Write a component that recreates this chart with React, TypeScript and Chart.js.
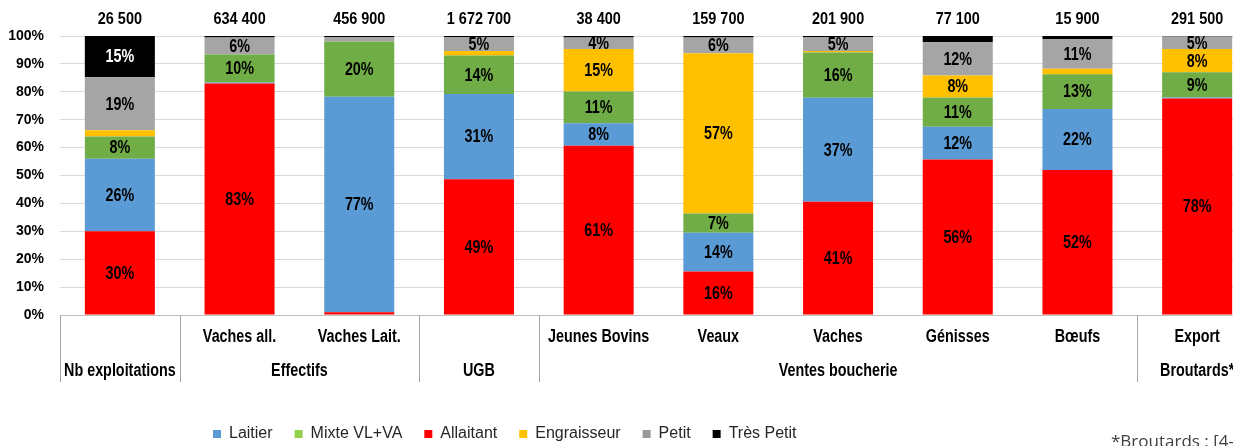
import React, { useEffect, useRef } from "react";
import { Chart, registerables } from "chart.js";

Chart.register(...registerables);

// ---------- data ----------
const categories = ["", "Vaches all.", "Vaches Lait.", "", "Jeunes Bovins", "Veaux", "Vaches", "Génisses", "Bœufs", "Export"];
const groupLabels = ["Nb exploitations", "Effectifs", "UGB", "Ventes boucherie", "Broutards*"];
const groupStart = [0, 1, 3, 4, 9];
const groupEnd = [0, 2, 3, 8, 9];
const totals = [26500, 634400, 456900, 1672700, 38400, 159700, 201900, 77100, 15900, 291500];

const seriesNames = ["Laitier", "Mixte VL+VA", "Allaitant", "Engraisseur", "Petit", "Très Petit"];
const laitier = [26, 0.3, 77.2, 30.5, 8, 13.9, 37.3, 11.8, 21.8, 0.4];
const mixte = [8, 10.1, 19.8, 13.8, 11.4, 6.9, 16.2, 10.5, 12.5, 9];
const allaitant = [30, 83, 1, 48.7, 60.7, 15.6, 40.6, 55.7, 52, 77.6];
const engraisseur = [2.2, 0, 0, 1.6, 15.2, 57.4, 0.5, 7.8, 2, 8.3];
const petit = [19, 6.1, 1.6, 5, 4.2, 5.7, 5, 12, 10.6, 4.5];
const tresPetit = [14.8, 0.5, 0.4, 0.4, 0.5, 0.5, 0.4, 2.2, 1.1, 0.2];

const seriesValues = [laitier, mixte, allaitant, engraisseur, petit, tresPetit];
const stackOrder = [1, 2, 0, 3, 4, 5];
const barColors = ["#5b9bd5", "#70ad47", "#ff0000", "#ffc000", "#a5a5a5", "#000000"];
const legendColors = ["#5b9bd5", "#92d050", "#ff0000", "#ffc000", "#999999", "#000000"];
const labelColors = ["#000000", "#000000", "#000000", "#000000", "#000000", "#ffffff"];

const yMin = 0;
const yMax = 100;
const yStep = 10;
const labelThreshold = 3.5;
const footnote = "*Broutards : [4-";

// ---------- helpers ----------
function fmtThousands(n: number): string {
  return String(n).replace(/\B(?=(\d{3})+(?!\d))/g, " ");
}

const W = 1260;
const H = 446;
const FAMILY = '"Liberation Sans", Arial, sans-serif';

// condensed bold text (Arial Narrow look)
function narrowText(ctx: CanvasRenderingContext2D, text: string, x: number, y: number, size: number, sx: number) {
  ctx.save();
  ctx.font = `bold ${size}px ${FAMILY}`;
  ctx.textAlign = "center";
  ctx.textBaseline = "middle";
  ctx.translate(x, y);
  ctx.scale(sx, 1);
  ctx.fillText(text, 0, 0);
  ctx.restore();
}

export default function App() {
  const ref = useRef<HTMLCanvasElement | null>(null);

  useEffect(() => {
    document.body.style.margin = "0";
    document.body.style.overflow = "hidden";
    document.documentElement.style.overflow = "hidden";

    const legendPad = 22;

    const overlay = {
      id: "overlay",
      afterLayout(chart: any) {
        const lg = chart.legend;
        if (lg) {
          const w = lg.right - lg.left;
          lg.left = 213 - legendPad;
          lg.right = lg.left + w;
          const h = lg.bottom - lg.top;
          lg.top = 434 - 8 - legendPad;
          lg.bottom = lg.top + h;
        }
      },
      afterDatasetsDraw(chart: any) {
        const ctx = chart.ctx;
        chart.data.datasets.forEach((ds: any, di: number) => {
          const meta = chart.getDatasetMeta(di);
          meta.data.forEach((el: any, i: number) => {
            const v = ds.data[i];
            if (v < labelThreshold) return;
            const p = el.getProps(["x", "y", "base"], true);
            ctx.fillStyle = labelColors[di];
            narrowText(ctx, Math.round(v) + "%", p.x, (p.y + p.base) / 2 + 1, 17.5, 0.82);
          });
        });
      },
      afterDraw(chart: any) {
        const ctx = chart.ctx;
        const xs = chart.scales.x;
        const area = chart.chartArea;
        const catW = xs.getPixelForValue(1) - xs.getPixelForValue(0);
        ctx.save();
        ctx.fillStyle = "#000000";
        // totals
        totals.forEach((t, i) => {
          narrowText(ctx, fmtThousands(t), xs.getPixelForValue(i), area.top - 17, 17, 0.85);
        });
        // category labels (first row)
        categories.forEach((c, i) => {
          if (c) narrowText(ctx, c, xs.getPixelForValue(i), area.bottom + 22, 17.5, 0.82);
        });
        // separators
        ctx.strokeStyle = "#a6a6a6";
        ctx.lineWidth = 1;
        groupStart.forEach((s) => {
          const x = Math.round(xs.getPixelForValue(s) - catW / 2) + 0.5;
          ctx.beginPath();
          ctx.moveTo(x, area.bottom);
          ctx.lineTo(x, area.bottom + 67);
          ctx.stroke();
        });
        // group labels (second row)
        groupLabels.forEach((g, k) => {
          const l = xs.getPixelForValue(groupStart[k]) - catW / 2;
          const r = xs.getPixelForValue(groupEnd[k]) + catW / 2;
          narrowText(ctx, g, (l + r) / 2, area.bottom + 56, 17.5, 0.82);
        });
        // footnote
        ctx.font = '17px "Open Sans", "Liberation Sans", sans-serif';
        ctx.fillStyle = "#404040";
        ctx.textAlign = "left";
        ctx.textBaseline = "alphabetic";
        ctx.fillText(footnote, 1111, 447);
        ctx.restore();
      },
    };

    const datasets = seriesNames.map((name, i) => ({
      label: name,
      data: seriesValues[i],
      backgroundColor: barColors[i],
      borderWidth: 0,
      order: stackOrder[i],
      barPercentage: 0.585,
      categoryPercentage: 1,
    }));

    const chart = new Chart(ref.current as HTMLCanvasElement, {
      type: "bar",
      data: { labels: categories, datasets },
      options: {
        animation: false,
        responsive: false,
        devicePixelRatio: 1,
        layout: { padding: { left: 0, right: W - 1257, top: 36, bottom: 0 } },
        plugins: {
          tooltip: { enabled: false },
          legend: {
            position: "bottom",
            align: "start",
            labels: {
              boxWidth: 8,
              boxHeight: 8,
              padding: legendPad,
              color: "#262626",
              font: { family: FAMILY, size: 16 },
              generateLabels(c: any) {
                const items = (Chart as any).defaults.plugins.legend.labels.generateLabels(c);
                return items
                  .sort((a: any, b: any) => a.datasetIndex - b.datasetIndex)
                  .map((it: any) => ({
                    ...it,
                    fillStyle: legendColors[it.datasetIndex],
                    strokeStyle: legendColors[it.datasetIndex],
                    lineWidth: 0,
                  }));
              },
            },
          },
        },
        scales: {
          x: {
            stacked: true,
            grid: { display: false, drawTicks: false },
            border: { display: true, color: "#bfbfbf", width: 1 },
            ticks: { display: false },
            afterFit(scale: any) {
              scale.height = H - 315 - 48;
            },
          },
          y: {
            stacked: true,
            min: yMin,
            max: yMax,
            grid: { color: "#d9d9d9", drawTicks: false },
            border: { display: false },
            ticks: {
              stepSize: yStep,
              padding: 16,
              color: "#000000",
              font: { family: FAMILY, size: 14, weight: "bold" },
              callback: (v: any) => v + "%",
            },
            afterFit(scale: any) {
              scale.width = 60;
            },
          },
        },
      },
      plugins: [overlay],
    } as any);

    return () => chart.destroy();
  }, []);

  return (
    <div style={{ width: W, height: H, position: "relative" }}>
      <canvas ref={ref} width={W} height={H} style={{ display: "block", width: W, height: H }} />
    </div>
  );
}
